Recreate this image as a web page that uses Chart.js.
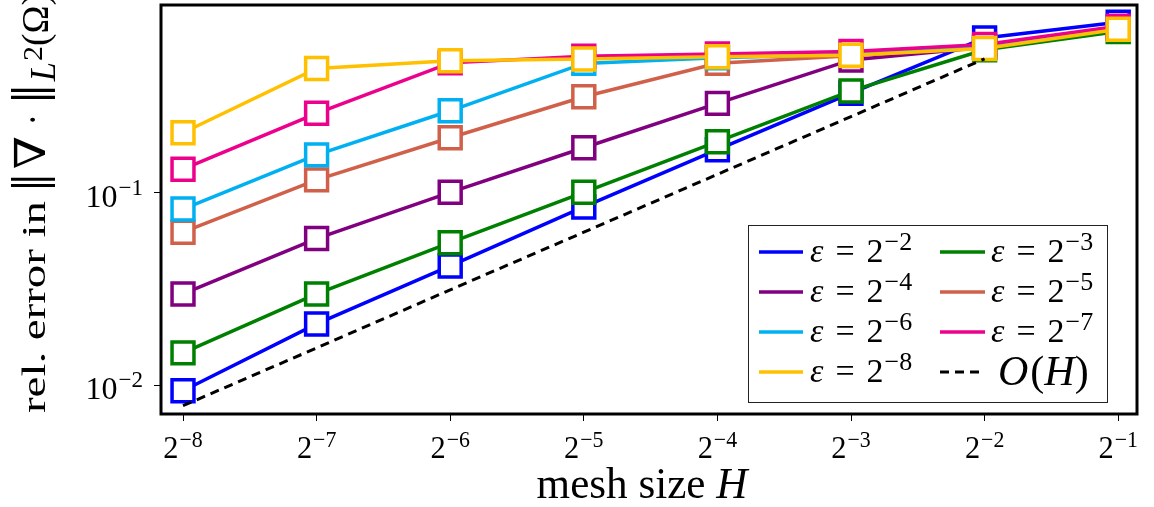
<!DOCTYPE html>
<html>
<head>
<meta charset="utf-8">
<script src="https://cdn.jsdelivr.net/npm/chart.js@4.4.0/dist/chart.umd.min.js"></script>
<style>
  html, body { margin: 0; padding: 0; background: #fff; }
  #wrap { width: 1154px; height: 507px; position: relative; }
</style>
</head>
<body>
<div id="wrap"><canvas id="c" width="1154" height="507"></canvas></div>
<script>
// mesh sizes H = 2^k
const meshExponents = [-8, -7, -6, -5, -4, -3, -2, -1];
const meshSizes = meshExponents.map(k => Math.pow(2, k));

// relative error of the divergence in L2, one list per epsilon
const errEps2 = [0.00934, 0.0208, 0.0417, 0.0846, 0.168, 0.331, 0.642, 0.774];
const errEps3 = [0.0147, 0.0298, 0.0551, 0.1008, 0.185, 0.340, 0.557, 0.693];
const errEps4 = [0.0298, 0.0579, 0.1008, 0.172, 0.293, 0.493, 0.574, 0.721];
const errEps5 = [0.0625, 0.117, 0.194, 0.317, 0.474, 0.519, 0.574, 0.721];
const errEps6 = [0.0825, 0.158, 0.268, 0.473, 0.506, 0.528, 0.578, 0.725];
const errEps7 = [0.133, 0.260, 0.476, 0.516, 0.530, 0.546, 0.593, 0.739];
const errEps8 = [0.206, 0.445, 0.488, 0.499, 0.512, 0.522, 0.566, 0.713];

// first-order reference line, drawn for H = 2^-8 ... 2^-2
const refOrderH = [0.0078, 0.0156, 0.0313, 0.0625, 0.125, 0.25, 0.5];

// y tick values
const yTickValues = [0.01, 0.1];
const yTickExponents = [-2, -1];

const series = [
  { exp: -2, values: errEps2, color: '#0000ff' },
  { exp: -3, values: errEps3, color: '#008000' },
  { exp: -4, values: errEps4, color: '#800080' },
  { exp: -5, values: errEps5, color: '#d0604a' },
  { exp: -6, values: errEps6, color: '#00b0f0' },
  { exp: -7, values: errEps7, color: '#ec008c' },
  { exp: -8, values: errEps8, color: '#ffc000' }
];

const SERIF = "'Liberation Serif', 'DejaVu Serif', serif";
const MINUS = '\u2212';

const datasets = series.map((s, i) => ({
  label: 'ε = 2^' + s.exp,
  data: s.values.map((v, j) => ({ x: meshSizes[j], y: v })),
  borderColor: s.color,
  backgroundColor: '#ffffff',
  borderWidth: 3.5,
  pointStyle: 'rect',
  pointRadius: 15.5,
  pointBorderWidth: 3.5,
  pointBackgroundColor: '#ffffff',
  pointBorderColor: s.color,
  order: series.length - i  // later series drawn on top
}));
datasets.push({
  label: 'O(H)',
  data: refOrderH.map((v, j) => ({ x: meshSizes[j], y: v })),
  borderColor: '#000000',
  borderWidth: 3,
  borderDash: [9, 6],
  pointRadius: 0,
  order: 0
});

function fontStr(size, italic) {
  return (italic ? 'italic ' : '') + size + 'px ' + SERIF;
}

// draw a row of text runs (baseline at y), scaled horizontally by sx
function drawRuns(ctx, runs, x, y, align, sx) {
  ctx.save();
  ctx.translate(x, y);
  ctx.scale(sx, 1);
  ctx.textBaseline = 'alphabetic';
  ctx.textAlign = 'left';
  let w = 0;
  for (const r of runs) {
    ctx.font = fontStr(r.size, r.italic);
    w += ctx.measureText(r.t).width + (r.gap || 0);
  }
  let cx = align === 'center' ? -w / 2 : (align === 'right' ? -w : 0);
  for (const r of runs) {
    ctx.font = fontStr(r.size, r.italic);
    cx += (r.gap || 0);
    ctx.fillText(r.t, cx, r.dy || 0);
    cx += ctx.measureText(r.t).width;
  }
  ctx.restore();
}

// draw text so that its ink fills the box [x0,x1] x [y0,y1]
function fitInk(ctx, text, size, italic, x0, x1, y0, y1) {
  ctx.save();
  ctx.font = fontStr(size, italic);
  ctx.textAlign = 'left';
  ctx.textBaseline = 'alphabetic';
  const m = ctx.measureText(text);
  const iw = m.actualBoundingBoxLeft + m.actualBoundingBoxRight;
  const ih = m.actualBoundingBoxAscent + m.actualBoundingBoxDescent;
  const sx = (x1 - x0) / iw, sy = (y1 - y0) / ih;
  ctx.translate(x0 + m.actualBoundingBoxLeft * sx, y0 + m.actualBoundingBoxAscent * sy);
  ctx.scale(sx, sy);
  ctx.fillText(text, 0, 0);
  ctx.restore();
}

const decor = {
  id: 'decor',
  afterDatasetsDraw(chart) {
    const ctx = chart.ctx;
    const a = chart.chartArea;
    const xs = chart.scales.x, ys = chart.scales.y;
    ctx.save();
    ctx.fillStyle = '#000';

    // frame
    ctx.strokeStyle = '#000';
    ctx.lineWidth = 3;
    ctx.strokeRect(a.left, a.top, a.right - a.left, a.bottom - a.top);

    // x tick labels 2^k
    meshExponents.forEach((k, i) => {
      const px = xs.getPixelForValue(meshSizes[i]);
      drawRuns(ctx, [
        { t: '2', size: 32 },
        { t: MINUS + Math.abs(k), size: 23, dy: -11, gap: 1 }
      ], px, 458, 'center', 0.95);
    });

    // y tick labels 10^k
    yTickValues.forEach((v, i) => {
      const py = ys.getPixelForValue(v);
      drawRuns(ctx, [
        { t: '10', size: 32 },
        { t: MINUS + Math.abs(yTickExponents[i]), size: 23, dy: -12, gap: 1 }
      ], 143, py + 14, 'right', 1.0);
    });

    // x axis title
    drawRuns(ctx, [
      { t: 'mesh size ', size: 44 },
      { t: 'H', size: 44, italic: true }
    ], 642, 498, 'center', 0.98);

    // y axis title, rotated; local x runs upward from the image point (0, 413)
    ctx.save();
    ctx.translate(0, 413);
    ctx.rotate(-Math.PI / 2);
    // local coords: lx = 413 - imageY, ly = imageX
    const box = (t, size, it, yA, yB, xA, xB) =>
      fitInk(ctx, t, size, it, 413 - yB, 413 - yA, xA, xB);
    box('rel. error in', 44, false, 201, 413, 22, 45);
    box('\u2016', 40, false, 177, 188, 10, 55);
    box('\u2207', 40, false, 137, 168, 13, 45);
    box('\u00b7', 40, false, 117, 122, 30, 35);
    box('\u2016', 40, false, 88, 100, 10, 55);
    box('L', 40, true, 63, 82, 32, 55);
    box('2', 30, false, 47, 60, 25, 42);
    box('(\u03a9)', 36, false, -6, 45, 20, 56);
    ctx.restore();

    // legend
    const lx = 748.5, ly = 225.5, lw = 359, lh = 177;
    ctx.fillStyle = '#fff';
    ctx.fillRect(lx, ly, lw, lh);
    ctx.strokeStyle = '#222';
    ctx.lineWidth = 1;
    ctx.strokeRect(lx, ly, lw, lh);

    const rowsY = [252, 292, 332, 372];
    const cols = [{ x0: 759, x1: 803, tx: 810 }, { x0: 940, x1: 985, tx: 991 }];
    const entries = [];
    // column-major: left column 2^-2, 2^-4, 2^-6, 2^-8; right column 2^-3, 2^-5, 2^-7, O(H)
    [0, 2, 4, 6].forEach((si, r) => entries.push({ s: series[si], col: 0, row: r }));
    [1, 3, 5].forEach((si, r) => entries.push({ s: series[si], col: 1, row: r }));
    entries.forEach(e => {
      const c = cols[e.col], y = rowsY[e.row];
      ctx.strokeStyle = e.s.color;
      ctx.lineWidth = 3.5;
      ctx.setLineDash([]);
      ctx.beginPath(); ctx.moveTo(c.x0, y); ctx.lineTo(c.x1, y); ctx.stroke();
      ctx.fillStyle = '#000';
      drawRuns(ctx, [
        { t: 'ε', size: 34, italic: true },
        { t: '=', size: 34, gap: 12 },
        { t: '2', size: 34, gap: 12 },
        { t: MINUS + Math.abs(e.s.exp), size: 26, dy: -12, gap: 1 }
      ], c.tx, y + 10, 'left', 1.0);
    });
    // reference line entry
    ctx.strokeStyle = '#000';
    ctx.lineWidth = 3;
    ctx.setLineDash([9, 6]);
    ctx.beginPath(); ctx.moveTo(940, rowsY[3]); ctx.lineTo(985, rowsY[3]); ctx.stroke();
    ctx.setLineDash([]);
    ctx.fillStyle = '#000';
    drawRuns(ctx, [
      { t: 'O', size: 42, italic: true },
      { t: '(', size: 42, gap: 2 },
      { t: 'H', size: 42, italic: true },
      { t: ')', size: 42 }
    ], 998, rowsY[3] + 13, 'left', 1.0);

    ctx.restore();
  }
};

new Chart(document.getElementById('c'), {
  type: 'line',
  data: { datasets },
  options: {
    responsive: false,
    animation: false,
    devicePixelRatio: 1,
    events: [],
    layout: { autoPadding: false, padding: { top: 5, right: 17, left: 0, bottom: 0 } },
    plugins: { legend: { display: false }, tooltip: { enabled: false } },
    scales: {
      x: {
        type: 'logarithmic',
        min: Math.pow(2, -8.1647),
        max: Math.pow(2, -0.8593),
        afterBuildTicks: s => { s.ticks = meshSizes.map(v => ({ value: v })); },
        afterFit: s => { s.height = 93; },
        ticks: { display: false },
        grid: { drawOnChartArea: false, drawTicks: true, tickLength: 7, color: '#000', lineWidth: 1 },
        border: { display: false }
      },
      y: {
        type: 'logarithmic',
        min: Math.pow(10, -2.151),
        max: Math.pow(10, -0.021),
        afterBuildTicks: s => { s.ticks = yTickValues.map(v => ({ value: v })); },
        afterFit: s => { s.width = 161; },
        ticks: { display: false },
        grid: { drawOnChartArea: false, drawTicks: true, tickLength: 7, color: '#000', lineWidth: 1 },
        border: { display: false }
      }
    }
  },
  plugins: [decor]
});
</script>
</body>
</html>
